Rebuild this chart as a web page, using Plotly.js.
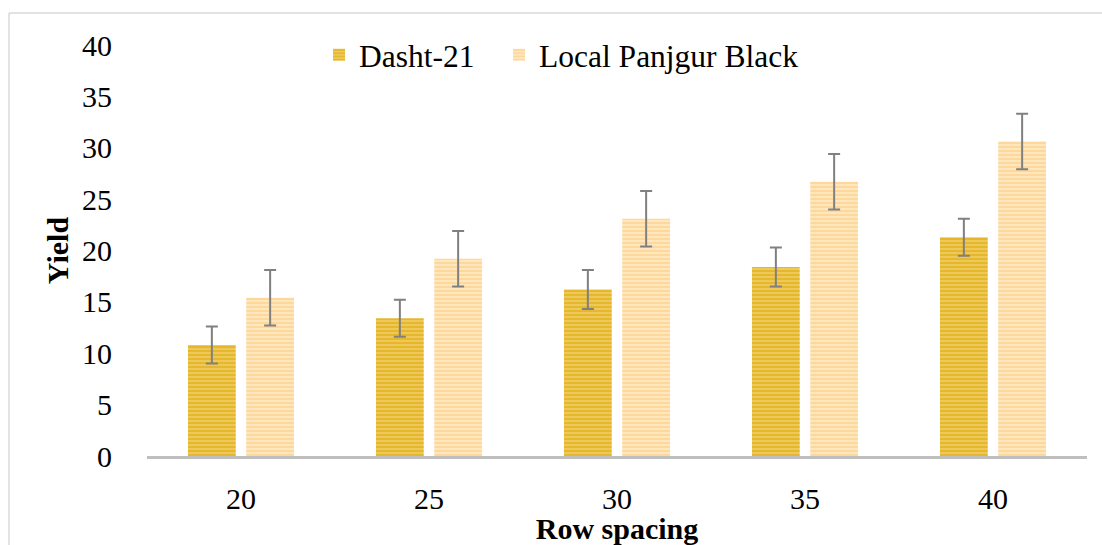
<!DOCTYPE html>
<html>
<head>
<meta charset="utf-8">
<script src="https://cdn.plot.ly/plotly-3.0.1.min.js"></script>
<style>html,body{margin:0;padding:0;background:#fff;}#chart{width:1102px;height:545px;}</style>
</head>
<body>
<div id="chart"></div>
<script>
const categories = ["20", "25", "30", "35", "40"];
const dashtValues = [10.8, 13.4, 16.2, 18.4, 21.3];
const dashtErrors = [1.8, 1.8, 1.9, 1.9, 1.8];
const localValues = [15.4, 19.2, 23.1, 26.7, 30.6];
const localErrors = [2.7, 2.7, 2.7, 2.7, 2.7];
const seriesNames = ["Dasht-21", "Local Panjgur Black"];

const serif = "'Liberation Serif', 'Times New Roman', serif";
const errStyle = {type: "data", visible: true, color: "#808080", thickness: 2, width: 6};

const traces = [
  {
    type: "bar", name: seriesNames[0], x: categories, y: dashtValues, legend: "legend",
    error_y: Object.assign({array: dashtErrors}, errStyle),
    marker: {color: "#EFC85A", line: {width: 0},
      pattern: {shape: "-", fgcolor: "#DBA500", size: 4, solidity: 0.5, fillmode: "overlay"}}
  },
  {
    type: "bar", name: seriesNames[1], x: categories, y: localValues, legend: "legend2",
    error_y: Object.assign({array: localErrors}, errStyle),
    marker: {color: "#FFE6BC", line: {width: 0},
      pattern: {shape: "-", fgcolor: "#FBC97E", size: 4, solidity: 0.5, fillmode: "overlay"}}
  }
];

const legendFont = {family: serif, size: 31.5, color: "#000"};
const layout = {
  width: 1102, height: 545,
  margin: {l: 147, r: 15, t: 45, b: 89},
  paper_bgcolor: "#fff", plot_bgcolor: "#fff",
  font: {family: serif, color: "#000", size: 30},
  barmode: "group", bargap: 0.38, bargroupgap: 0.18,
  showlegend: true,
  legend: {orientation: "h", x: 0.183, xanchor: "left", y: 0.976, yanchor: "middle",
    font: legendFont, bgcolor: "rgba(0,0,0,0)"},
  legend2: {orientation: "h", x: 0.3745, xanchor: "left", y: 0.976, yanchor: "middle",
    font: legendFont, bgcolor: "rgba(0,0,0,0)"},
  xaxis: {
    type: "category", showgrid: false, zeroline: false,
    showline: true, linecolor: "#BFBFBF", linewidth: 3,
    ticks: "outside", ticklen: 14, tickcolor: "rgba(0,0,0,0)",
    tickfont: {family: serif, size: 30, color: "#000"},
    title: {text: "<b>Row spacing</b>", font: {family: serif, size: 30, color: "#000"}, standoff: 2}
  },
  yaxis: {
    range: [0, 40], dtick: 5, showgrid: false, zeroline: false, showline: false,
    ticks: "outside", ticklen: 28, tickcolor: "rgba(0,0,0,0)",
    tickfont: {family: serif, size: 30, color: "#000"},
    title: {text: "<b>Yield</b>", font: {family: serif, size: 30, color: "#000"}, standoff: 4}
  },
  shapes: [
    {type: "line", xref: "paper", yref: "paper", x0: -0.1468, x1: 1.02, y0: 1.078, y1: 1.078,
      line: {color: "#D9D9D9", width: 1.5}},
    {type: "line", xref: "paper", yref: "paper", x0: -0.1468, x1: -0.1468, y0: 1.078, y1: -0.22,
      line: {color: "#D9D9D9", width: 1.5}}
  ]
};

Plotly.newPlot("chart", traces, layout, {displayModeBar: false, staticPlot: true});
</script>
</body>
</html>
